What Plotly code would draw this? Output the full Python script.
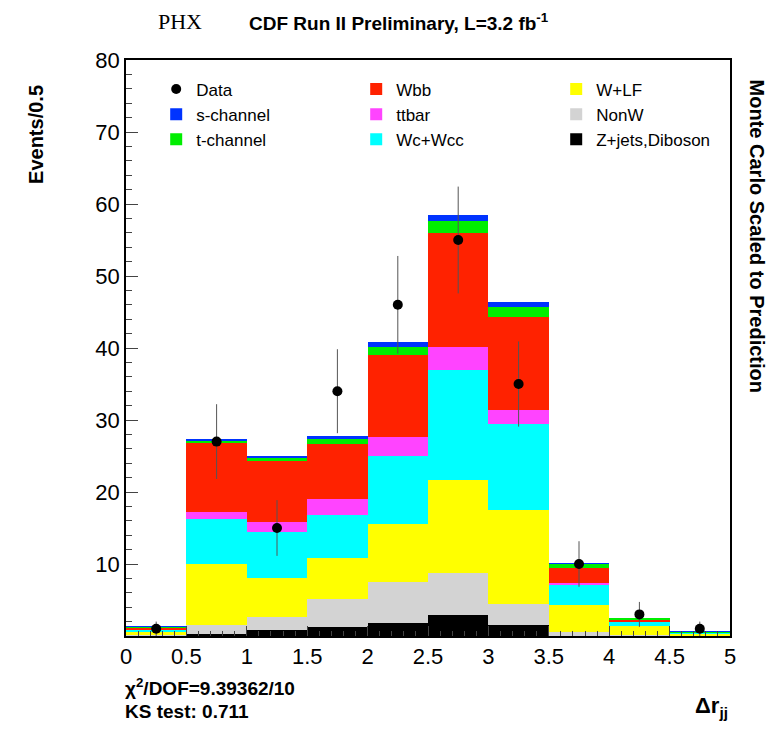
import plotly.graph_objects as go
import numpy as np

# bin centres of delta r_jj (width 0.5)
bins = [0.25, 0.75, 1.25, 1.75, 2.25, 2.75, 3.25, 3.75, 4.25, 4.75]

# stacked MC components (events per bin)
zjets   = [0.0, 0.3, 0.8, 1.2, 1.8, 2.9, 1.5, 0.0, 0.0, 0.0]
nonw    = [0.1, 1.2, 1.9, 4.0, 5.7, 5.8, 2.9, 0.5, 0.2, 0.0]
wlf     = [0.4, 8.5, 5.4, 5.6, 8.0, 12.9, 13.1, 3.8, 1.2, 0.4]
wcc     = [0.3, 6.3, 6.3, 6.0, 9.5, 15.4, 11.9, 2.9, 0.5, 0.1]
ttbar   = [0.0, 0.9, 1.4, 2.2, 2.7, 3.2, 2.0, 0.1, 0.0, 0.0]
wbb     = [0.4, 9.6, 8.5, 7.6, 11.3, 15.8, 12.9, 2.2, 0.4, 0.05]
tchan   = [0.05, 0.3, 0.4, 0.8, 1.2, 1.6, 1.4, 0.5, 0.2, 0.03]
schan   = [0.05, 0.3, 0.3, 0.4, 0.6, 0.9, 0.7, 0.1, 0.0, 0.02]

data = [1, 27, 15, 34, 46, 55, 35, 10, 3, 1]

fig = go.Figure()

# stacking order bottom-up, legend order via legendrank
comps = [
    ("Z+jets,Diboson", zjets, "#000000", 9),
    ("NonW", nonw, "#d3d3d3", 6),
    ("W+LF", wlf, "#ffff00", 3),
    ("Wc+Wcc", wcc, "#00ffff", 8),
    ("ttbar", ttbar, "#ff44ff", 5),
    ("Wbb", wbb, "#ff2200", 2),
    ("t-channel", tchan, "#00ee00", 7),
    ("s-channel", schan, "#0033ff", 4),
]
for name, vals, col, rank in comps:
    fig.add_trace(go.Bar(x=bins, y=vals, name=name, marker_color=col,
                         marker_line_width=0, width=0.5, legendrank=rank))

fig.add_trace(go.Scatter(
    x=bins, y=data, mode="markers", name="Data", legendrank=1,
    marker=dict(color="black", size=10),
    error_y=dict(type="data", array=np.sqrt(data), color="#555555", thickness=1, width=0),
))

fig.update_layout(
    barmode="stack", bargap=0,
    width=765, height=715,
    plot_bgcolor="white", paper_bgcolor="white",
    margin=dict(l=118, r=43, t=52, b=87),
    font=dict(family="Liberation Sans, Arial", size=18, color="black"),
    legend=dict(orientation="h", x=0.05, y=0.98, xanchor="left", yanchor="top",
                entrywidth=155, traceorder="normal", bgcolor="rgba(0,0,0,0)",
                font=dict(size=17), tracegroupgap=0),
    showlegend=True,
)
fig.update_xaxes(range=[0, 5], dtick=0.5, ticks="inside", ticklen=10, showgrid=False,
                 showline=True, linecolor="black", linewidth=1.5, mirror=True,
                 tickfont=dict(size=22), minor=dict(ticks="inside", ticklen=5, dtick=0.1))
fig.update_yaxes(range=[0, 80], tickvals=[10, 20, 30, 40, 50, 60, 70, 80], ticks="inside",
                 ticklen=12, showgrid=False, showline=True, linecolor="black", linewidth=1.5,
                 mirror=True, tickfont=dict(size=22), minor=dict(ticks="inside", ticklen=6, dtick=2))

annots = [
    dict(text="PHX", x=0.05, y=1.0, xref="paper", yref="paper", yanchor="bottom", yshift=24,
         showarrow=False, font=dict(family="Liberation Serif", size=22)),
    dict(text="<b>CDF Run II Preliminary, L=3.2 fb<sup>-1</sup></b>", x=0.2, y=1.0, xref="paper",
         yref="paper", xanchor="left", yanchor="bottom", yshift=24, showarrow=False,
         font=dict(size=19)),
    dict(text="<b>Events/0.5</b>", x=-0.15, y=0.96, xref="paper", yref="paper", textangle=-90,
         xanchor="center", yanchor="top", showarrow=False, font=dict(size=20)),
    dict(text="<b>Monte Carlo Scaled to Prediction</b>", x=1.045, y=0.97, xref="paper", yref="paper",
         textangle=90, xanchor="center", yanchor="top", showarrow=False, font=dict(size=20)),
    dict(text="<b>χ<sup>2</sup>/DOF=9.39362/10</b>", x=-0.005, y=-0.065, xref="paper", yref="paper",
         xanchor="left", yanchor="top", showarrow=False, font=dict(size=19)),
    dict(text="<b>KS test: 0.711</b>", x=-0.005, y=-0.11, xref="paper", yref="paper",
         xanchor="left", yanchor="top", showarrow=False, font=dict(size=19)),
    dict(text="<b>Δr<sub>jj</sub></b>", x=1.0, y=-0.095, xref="paper", yref="paper",
         xanchor="right", yanchor="top", showarrow=False, font=dict(size=22)),
]
fig.update_layout(annotations=annots)

fig.write_html("out.html")
